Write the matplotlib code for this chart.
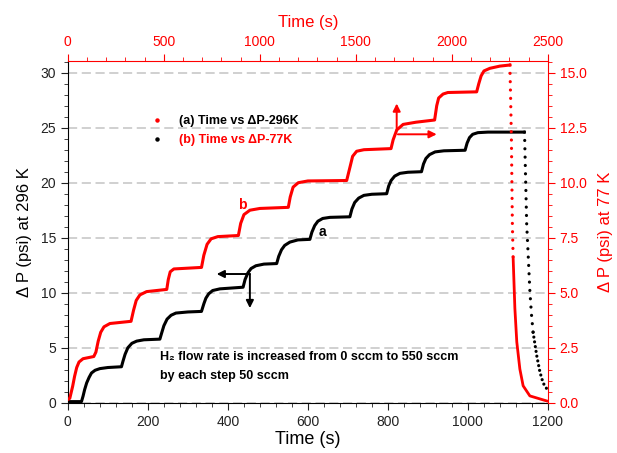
import matplotlib.pyplot as plt
from matplotlib.lines import Line2D
from matplotlib.ticker import MultipleLocator

plt.rcParams['font.family'] = ['Liberation Sans', 'DejaVu Sans']

# (a) 296 K run: bottom time axis (s), left pressure axis (psi)
time_296 = [0, 34, 38, 42, 47, 53, 59, 68, 80, 100, 134,
            138, 143, 150, 160, 172, 190, 230,
            235, 240, 248, 258, 270, 300, 334,
            340, 345, 352, 362, 380, 438,
            443, 450, 458, 470, 490, 522,
            527, 534, 542, 555, 575, 605,
            610, 617, 625, 637, 655, 705,
            710, 717, 727, 740, 760, 797,
            802, 808, 817, 830, 850, 884,
            889, 895, 904, 918, 940, 993,
            998, 1004, 1012, 1025, 1050, 1141]
dp_296 = [0.1, 0.1, 0.6, 1.2, 1.8, 2.3, 2.7, 2.95, 3.1, 3.2, 3.27,
          3.8, 4.4, 5.0, 5.4, 5.6, 5.72, 5.78,
          6.4, 7.0, 7.6, 7.95, 8.15, 8.25, 8.3,
          9.0, 9.5, 9.9, 10.2, 10.35, 10.5,
          11.2, 11.8, 12.2, 12.45, 12.6, 12.65,
          13.3, 13.9, 14.3, 14.6, 14.8, 14.85,
          15.5, 16.1, 16.5, 16.75, 16.85, 16.9,
          17.6, 18.2, 18.6, 18.85, 18.95, 19.0,
          19.7, 20.2, 20.6, 20.85, 20.95, 21.0,
          21.7, 22.2, 22.55, 22.8, 22.9, 22.95,
          23.6, 24.1, 24.4, 24.55, 24.6, 24.6]
# pressure release of run (a)
drop_time_296 = [1141, 1142, 1144, 1147, 1151, 1155, 1159, 1163]
drop_dp_296 = [24.6, 23.9, 20.8, 16.2, 13.2, 10.1, 8.0, 6.4]
tail_time_296 = [1163, 1172, 1180, 1188, 1200]
tail_dp_296 = [6.4, 4.3, 2.8, 1.8, 1.1]

# (b) 77 K run: top time axis (s), right pressure axis (psi)
time_77 = [0, 10, 25, 35, 46, 58, 79, 135, 146, 158, 171, 188, 219, 329,
           342, 356, 375, 410, 515, 523, 533, 552, 696,
           708, 725, 746, 781, 888, 900, 917, 948, 1000, 1148,
           1158, 1173, 1200, 1250, 1452, 1469, 1483, 1504, 1542, 1683,
           1694, 1713, 1746, 1813, 1910, 1921, 1931, 1954, 1979, 2129,
           2140, 2152, 2167, 2198, 2250, 2302]
dp_77 = [0.15, 0.2, 0.75, 1.2, 1.6, 1.85, 2.0, 2.1, 2.3, 2.8, 3.2, 3.45, 3.6, 3.7,
         4.2, 4.65, 4.9, 5.05, 5.15, 5.6, 5.95, 6.08, 6.15,
         6.7, 7.2, 7.45, 7.55, 7.6, 8.15, 8.55, 8.75, 8.83, 8.88,
         9.35, 9.8, 10.0, 10.08, 10.1, 10.7, 11.2, 11.43, 11.5, 11.55,
         11.95, 12.4, 12.65, 12.75, 12.85, 13.5, 13.85, 14.03, 14.1, 14.13,
         14.5, 14.85, 15.08, 15.2, 15.3, 15.35]
drop_time_77 = [2302, 2306, 2310, 2315, 2319]
drop_dp_77 = [15.35, 13.8, 11.94, 8.11, 6.58]
tail_time_77 = [2319, 2328, 2338, 2354, 2371, 2406, 2494]
tail_dp_77 = [6.58, 4.29, 2.76, 1.53, 0.77, 0.31, 0.08]

red = '#ff0000'
dots = (0, (0.01, 2.6))
dense_dots = (0, (0.01, 1.5))

fig = plt.figure(figsize=(6.17, 4.53), dpi=100)
rect = [0.110, 0.111, 0.778, 0.754]
ax = fig.add_axes(rect)
ax2 = fig.add_axes(rect)
ax2.patch.set_visible(False)

# black curve on bottom/left axes
ax.plot(time_296, dp_296, color='black', lw=2.2, zorder=3)
ax.plot(drop_time_296, drop_dp_296, color='black', lw=2.3, ls=dots,
        dash_capstyle='round', zorder=3)
ax.plot(tail_time_296, tail_dp_296, color='black', lw=2.3, ls=dense_dots,
        dash_capstyle='round', zorder=3)

# red curve on top/right axes
ax2.plot(time_77, dp_77, color=red, lw=2.2, zorder=3)
ax2.plot(drop_time_77, drop_dp_77, color=red, lw=2.3, ls=dots,
         dash_capstyle='round', zorder=3)
ax2.plot(tail_time_77, tail_dp_77, color=red, lw=2.0, zorder=3)

# bottom / left axes
ax.set_xlim(0, 1200)
ax.set_ylim(0, 31.05)
ax.xaxis.set_major_locator(MultipleLocator(200))
ax.xaxis.set_minor_locator(MultipleLocator(40))
ax.yaxis.set_major_locator(MultipleLocator(5))
ax.yaxis.set_minor_locator(MultipleLocator(1))
ax.spines['top'].set_visible(False)
ax.spines['right'].set_visible(False)
ax.tick_params(which='both', direction='out', labelsize=10, colors='#222222')
ax.tick_params(which='major', length=5)
ax.tick_params(which='minor', length=3)
ax.set_xlabel('Time (s)', fontsize=13, labelpad=2)
ax.set_ylabel('\u0394 P (psi) at 296 K', fontsize=12, labelpad=6)
ax.yaxis.grid(True, color='#c4c4c4', lw=1.1, ls=(0, (6, 3)))
ax.set_axisbelow(True)

# top / right axes
ax2.set_xlim(0, 2500)
ax2.set_ylim(0, 31.05 / 2)
ax2.xaxis.tick_top()
ax2.xaxis.set_label_position('top')
ax2.yaxis.tick_right()
ax2.yaxis.set_label_position('right')
ax2.xaxis.set_major_locator(MultipleLocator(500))
ax2.xaxis.set_minor_locator(MultipleLocator(100))
ax2.yaxis.set_major_locator(MultipleLocator(2.5))
ax2.yaxis.set_minor_locator(MultipleLocator(0.5))
ax2.yaxis.set_major_formatter(lambda v, p: f'{v:.1f}')
ax2.spines['left'].set_visible(False)
ax2.spines['bottom'].set_visible(False)
ax2.spines['top'].set_color(red)
ax2.spines['right'].set_color(red)
ax2.tick_params(which='both', direction='out', labelsize=10, colors=red)
ax2.tick_params(which='major', length=5)
ax2.tick_params(which='minor', length=3)
ax2.set_xlabel('Time (s)', fontsize=12, color=red, labelpad=6)
ax2.set_ylabel('\u0394 P (psi) at 77 K', fontsize=12, color=red, labelpad=8)

# legend with swapped marker / text colours as in the original
handles = [Line2D([], [], ls='none', marker='o', ms=2.2, color=red),
           Line2D([], [], ls='none', marker='o', ms=2.2, color='black')]
labels = ['(a) Time vs \u0394P-296K', '(b) Time vs \u0394P-77K']
leg = ax.legend(handles, labels, loc='upper left', bbox_to_anchor=(0.15, 0.875),
                frameon=False, handlelength=1.0, handletextpad=1.2,
                labelspacing=0.55, prop=dict(weight='bold', size=9))
leg.get_texts()[0].set_color('black')
leg.get_texts()[1].set_color(red)

# curve labels and arrows
ax.text(637, 15.5, 'a', fontsize=10, fontweight='bold', ha='center', va='center')
ax.text(437, 18.0, 'b', fontsize=10, fontweight='bold', color=red,
        ha='center', va='center')
arrow_k = dict(arrowstyle='-|>', color='black', lw=1.4, mutation_scale=11,
               shrinkA=0, shrinkB=0)
arrow_r = dict(arrowstyle='-|>', color=red, lw=1.4, mutation_scale=11,
               shrinkA=0, shrinkB=0)
ax.annotate('', xy=(372, 11.7), xytext=(455, 11.7), arrowprops=arrow_k)
ax.annotate('', xy=(455, 8.6), xytext=(455, 11.7), arrowprops=arrow_k)
ax.annotate('', xy=(822, 27.2), xytext=(822, 24.8), arrowprops=arrow_r)
ax.annotate('', xy=(922, 24.4), xytext=(825, 24.4), arrowprops=arrow_r)

ax.text(230, 4.15, 'H\u2082 flow rate is increased from 0 sccm to 550 sccm',
        fontsize=9, fontweight='bold', va='center')
ax.text(230, 2.45, 'by each step 50 sccm', fontsize=9, fontweight='bold',
        va='center')

fig.savefig('out.png', dpi=100)
